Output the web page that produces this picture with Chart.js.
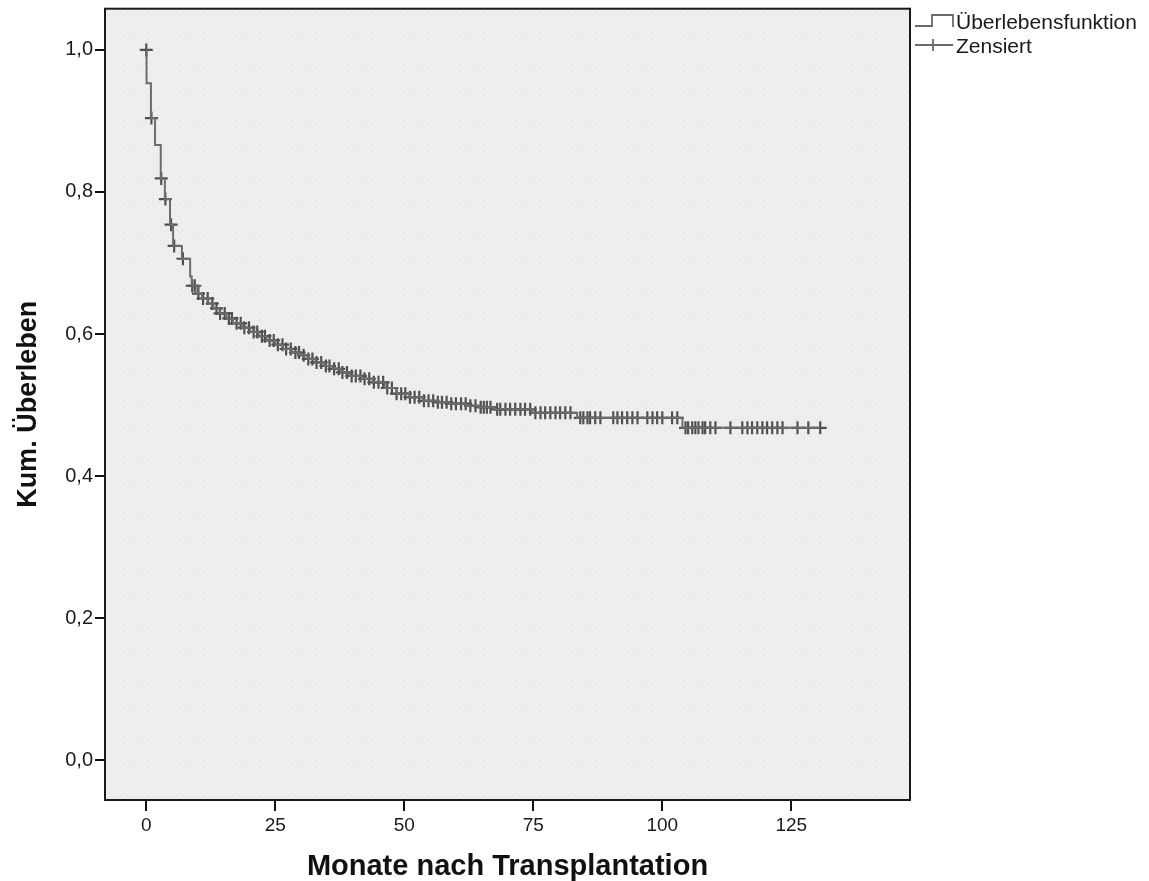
<!DOCTYPE html>
<html>
<head>
<meta charset="utf-8">
<script src="https://cdn.jsdelivr.net/npm/chart.js@4"></script>
<style>
  html, body { margin: 0; padding: 0; background: #ffffff; }
  #wrap { width: 1149px; height: 881px; }
</style>
</head>
<body>
<div id="wrap"><canvas id="km" width="1149" height="881"></canvas></div>
<script>
// Kaplan-Meier estimate: event times (months) and survival after each drop
const eventTimes = [0, 0.05, 0.9, 1.7, 2.8, 3.6, 4.6, 5.2, 6.9, 8.5, 8.8, 9.9, 10.8, 12.0, 13.0, 14.2,
  15.5, 16.8, 18.5, 20.1, 21.8, 23.3, 25.0, 26.5, 28.2, 29.7, 31.3, 32.8, 34.5, 36.1, 37.8, 39.4,
  41.7, 43.9, 46.2, 48.5, 51.0, 53.6, 56.5, 58.8, 62.0, 64.5, 67.5, 74.8, 83.5, 103.9, 130.6];
const survival = [1.000, 0.953, 0.904, 0.866, 0.819, 0.790, 0.754, 0.724, 0.706, 0.681, 0.668, 0.657, 0.650, 0.643, 0.636, 0.629,
  0.622, 0.615, 0.609, 0.603, 0.597, 0.591, 0.585, 0.579, 0.574, 0.570, 0.565, 0.560, 0.555, 0.551, 0.546, 0.541,
  0.537, 0.532, 0.524, 0.516, 0.511, 0.506, 0.504, 0.502, 0.499, 0.497, 0.494, 0.489, 0.482, 0.468, 0.468];

// censored observations (months)
const censorTimes = [0, 1.0, 2.9, 3.7, 4.8, 5.4, 7.1, 8.9, 9.4, 10.1, 11.0, 11.9, 12.8, 13.6, 14.3, 15.2, 16.0,
  16.6, 17.5, 18.3, 19.0, 19.9, 20.8, 21.5, 22.4, 23.0, 23.9, 24.7, 25.5, 26.4, 27.1, 28.0, 28.9, 29.6,
  30.5, 31.4, 32.2, 33.0, 33.9, 34.8, 35.5, 36.4, 37.3, 38.0, 38.9, 39.8, 40.6, 41.5, 42.3, 43.2, 44.1,
  45.0, 45.9, 46.7, 47.6, 48.5, 49.4, 50.2, 51.1, 52.0, 52.9, 53.8, 54.7, 55.6, 56.5, 57.3, 58.2, 59.1,
  60.0, 61.0, 61.9, 62.8, 63.8, 64.8, 65.4, 66.0, 66.7, 68.0, 68.6, 69.6, 70.5, 71.5, 72.5, 73.4, 74.4,
  75.4, 76.4, 77.3, 78.3, 79.3, 80.2, 81.2, 82.2, 84.1, 84.7, 85.5, 86.0, 87.0, 88.0, 90.5, 91.3, 92.2,
  93.2, 94.2, 95.2, 97.1, 98.1, 99.0, 100.0, 101.9, 102.9, 104.5, 105.0, 105.8, 106.4, 107.0, 107.8,
  108.3, 109.3, 110.3, 113.2, 115.5, 116.5, 117.4, 118.4, 119.4, 120.3, 121.3, 122.3, 123.3, 126.2,
  128.3, 130.6];

const xTicks = [0, 25, 50, 75, 100, 125];
const yTicks = [0, 0.2, 0.4, 0.6, 0.8, 1.0];

const legendLabels = ['Überlebensfunktion', 'Zensiert'];
const xTitle = 'Monate nach Transplantation';
const yTitle = 'Kum. Überleben';

// survival level in effect at time t
function survivalAt(t) {
  let s = survival[0];
  for (let i = 0; i < eventTimes.length; i++) {
    if (eventTimes[i] <= t) s = survival[i]; else break;
  }
  return s;
}

const curvePoints = eventTimes.map((t, i) => ({ x: t, y: survival[i] }));
const censorPoints = censorTimes.map(t => ({ x: t, y: survivalAt(t) }));

// dotted light-grey plot background
function makePattern(ctx) {
  const c = document.createElement('canvas');
  c.width = 7; c.height = 7;
  const g = c.getContext('2d');
  g.fillStyle = '#ededed';
  g.fillRect(0, 0, 7, 7);
  g.fillStyle = '#fbfbfb';
  g.fillRect(1, 1, 1, 1);
  g.fillRect(4, 4, 1, 1);
  return ctx.createPattern(c, 'repeat');
}

const plotFrame = {
  id: 'plotFrame',
  beforeDatasetsDraw(chart) {
    const { ctx, chartArea: a } = chart;
    ctx.save();
    ctx.fillStyle = makePattern(ctx);
    ctx.fillRect(a.left, a.top, a.right - a.left, a.bottom - a.top);
    ctx.restore();
  },
  afterDraw(chart) {
    const { ctx, chartArea: a } = chart;
    ctx.save();
    ctx.strokeStyle = '#1a1a1a';
    ctx.lineWidth = 2;
    ctx.strokeRect(a.left, a.top, a.right - a.left, a.bottom - a.top);

    // legend to the right of the plot
    const lx = 915;
    ctx.strokeStyle = '#6a6a6a';
    ctx.lineWidth = 1.8;
    ctx.beginPath();
    ctx.moveTo(lx, 26); ctx.lineTo(lx + 17, 26); ctx.lineTo(lx + 17, 15);
    ctx.lineTo(lx + 38, 15); ctx.lineTo(lx + 38, 27);
    ctx.stroke();
    ctx.beginPath();
    ctx.moveTo(lx, 45); ctx.lineTo(lx + 38, 45);
    ctx.moveTo(lx + 18, 39); ctx.lineTo(lx + 18, 51);
    ctx.stroke();
    ctx.fillStyle = '#1a1a1a';
    ctx.font = '21px "Liberation Sans", Arial, sans-serif';
    ctx.textBaseline = 'middle';
    ctx.textAlign = 'left';
    ctx.fillText(legendLabels[0], 956, 23);
    ctx.fillText(legendLabels[1], 956, 47);
    ctx.restore();
  }
};

const tickFont = { family: '"Liberation Sans", Arial, sans-serif', size: 19 };
const yTitleFont = { family: '"Liberation Sans", Arial, sans-serif', size: 27, weight: 'bold', lineHeight: 1 };
const xTitleFont = { family: '"Liberation Sans", Arial, sans-serif', size: 29, weight: 'bold', lineHeight: 1 };

new Chart(document.getElementById('km'), {
  type: 'scatter',
  data: {
    datasets: [
      {
        label: legendLabels[0],
        data: curvePoints,
        showLine: true,
        stepped: 'before',
        borderColor: '#6c6c6c',
        borderWidth: 2,
        pointRadius: 0,
        pointHoverRadius: 0,
        fill: false
      },
      {
        label: legendLabels[1],
        data: censorPoints,
        showLine: false,
        pointStyle: 'cross',
        pointRadius: 6.5,
        pointBorderWidth: 2.2,
        pointBorderColor: '#505050',
        pointBackgroundColor: '#505050',
        borderColor: '#505050'
      }
    ]
  },
  plugins: [plotFrame],
  options: {
    responsive: false,
    animation: false,
    devicePixelRatio: 1,
    layout: { padding: { left: 0, right: 239, top: 8, bottom: 0 } },
    plugins: { legend: { display: false }, tooltip: { enabled: false } },
    scales: {
      x: {
        type: 'linear',
        min: -8,
        max: 148,
        afterBuildTicks(scale) { scale.ticks = xTicks.map(v => ({ value: v })); },
        afterFit(scale) {
          scale.height = 81;
          scale.paddingLeft = 0; scale.paddingRight = 0;
        },
        ticks: { font: tickFont, color: '#1a1a1a', padding: 3, maxRotation: 0, autoSkip: false },
        grid: { drawOnChartArea: false, drawTicks: true, tickLength: 11, color: '#111', lineWidth: 2 },
        border: { display: true, color: '#111', width: 2 },
        title: { display: true, text: xTitle, font: xTitleFont, color: '#111', padding: { top: 0, bottom: 0 } }
      },
      y: {
        type: 'linear',
        min: -0.056,
        max: 1.058,
        afterBuildTicks(scale) { scale.ticks = yTicks.map(v => ({ value: v })); },
        afterFit(scale) {
          scale.width = 105;
          scale.paddingTop = 0; scale.paddingBottom = 0;
        },
        ticks: {
          font: { family: '"Liberation Sans", Arial, sans-serif', size: 20 }, color: '#1a1a1a', padding: 2, autoSkip: false,
          callback: v => v.toFixed(1).replace('.', ',')
        },
        grid: { drawOnChartArea: false, drawTicks: true, tickLength: 10, color: '#111', lineWidth: 2 },
        border: { display: true, color: '#111', width: 2 },
        title: { display: true, text: yTitle, font: yTitleFont, color: '#111', padding: { top: 15, bottom: 0 } }
      }
    }
  }
});
</script>
</body>
</html>
